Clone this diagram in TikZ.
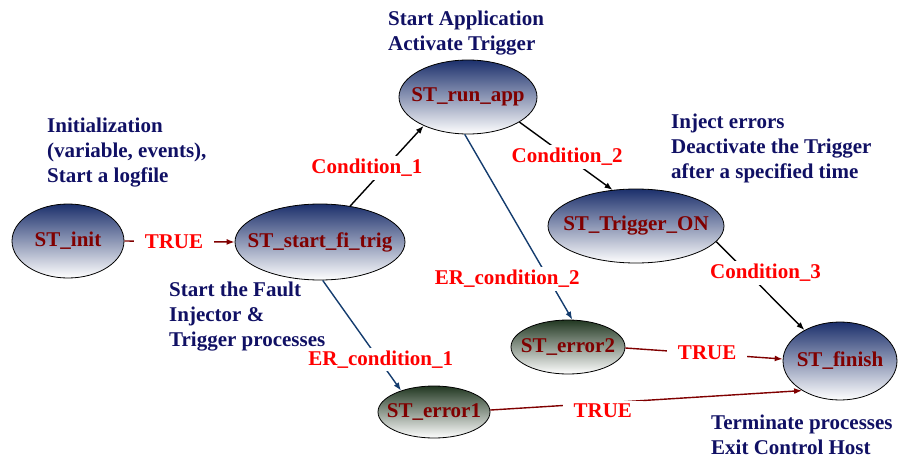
\documentclass[tikz,border=0pt]{standalone}
\usepackage{fontspec}
\setmainfont[Ligatures=CommonOff]{Liberation Serif}
\usetikzlibrary{shapes.geometric,arrows.meta}
\definecolor{nodered}{RGB}{128,0,0}
\definecolor{lblred}{RGB}{255,0,0}
\definecolor{notenavy}{RGB}{16,16,100}
\definecolor{navtop}{RGB}{28,48,108}
\definecolor{grtop}{RGB}{34,56,34}
\definecolor{edgenavy}{RGB}{20,60,110}
\definecolor{edgered}{RGB}{128,0,0}
\begin{document}
\begin{tikzpicture}[x=1pt,y=-1pt,
  st/.style={ellipse,draw=black,line width=0.8pt,inner sep=0pt,top color=navtop,bottom color=white,
    font=\fontsize{21}{25}\selectfont\bfseries,text=nodered},
  err/.style={st,top color=grtop},
  lbl/.style={fill=white,inner xsep=11pt,inner ysep=3pt,text=lblred,font=\fontsize{21}{25}\selectfont\bfseries},
  note/.style={text=notenavy,align=left,anchor=north west,inner sep=0pt,font=\fontsize{21}{25}\selectfont\bfseries},
  ctl/.style={line width=1.4pt,-{Latex[length=8pt,width=6pt]}},
  blk/.style={ctl,draw=black},
  nvy/.style={ctl,draw=edgenavy},
  drd/.style={ctl,draw=edgered}]
\useasboundingbox (0,0) rectangle (898,458);

% states
\node[st,minimum width=112pt,minimum height=74pt] (init) at (68,241) {\makebox[0pt]{ST\_init}};
\node[st,minimum width=170pt,minimum height=76pt] (start) at (320,242) {\makebox[0pt]{ST\_start\_fi\_trig}};
\node[st,minimum width=138pt,minimum height=74pt] (run) at (468,97) {\makebox[0pt]{ST\_run\_app}};
\node[st,minimum width=176pt,minimum height=74pt] (trig) at (636,226) {\makebox[0pt]{ST\_Trigger\_ON}};
\node[err,minimum width=114pt,minimum height=54pt] (err2) at (568,347) {\makebox[0pt]{ST\_error2}};
\node[err,minimum width=112pt,minimum height=52pt] (err1) at (434,412) {\makebox[0pt]{ST\_error1}};
\node[st,minimum width=114pt,minimum height=78pt] (fin) at (840,361) {\makebox[0pt]{ST\_finish}};

% transitions
\draw[drd] (init.0) -- node[lbl,pos=0.45] {TRUE} (start.180);
\draw[blk] (start.50.5) -- node[lbl,pos=0.364,xshift=-10pt,yshift=9pt] {Condition\_1} (run.213.7);
\draw[blk] (run.334.7) -- node[lbl,pos=0.512] {Condition\_2} (trig.123.7);
\draw[blk] (trig.349.5) -- node[lbl,pos=0.445,xshift=10pt,yshift=8pt] {Condition\_3} (fin.139.9);
\draw[nvy] (run.265.6) -- node[lbl,pos=0.684,xshift=-31pt,yshift=-18pt] {ER\_condition\_2} (err2.81.6);
\draw[nvy] (start.274.3) -- node[lbl,pos=0.716,xshift=2pt] {ER\_condition\_1} (err1.147.1);
\draw[drd] (err2.359) -- node[lbl,pos=0.52,yshift=1.5pt] {TRUE} (fin.178);
\draw[drd] (err1.2) -- node[lbl,pos=0.361,yshift=-8pt] {TRUE} (fin.218.3);

% annotations
\node[note] (n1) at (47,118) {Initialization\\(variable, events),\\Start a logfile};
\node[note] (n2) at (388,11) {Start Application\\Activate Trigger};
\node[note] (n3) at (671,114) {Inject errors\\Deactivate the Trigger\\after a specified time};
\node[note] (n4) at (169,282) {Start the Fault\\Injector \&\\Trigger processes};
\node[note] (n5) at (711,415) {Terminate processes\\Exit Control Host};
\end{tikzpicture}
\end{document}
